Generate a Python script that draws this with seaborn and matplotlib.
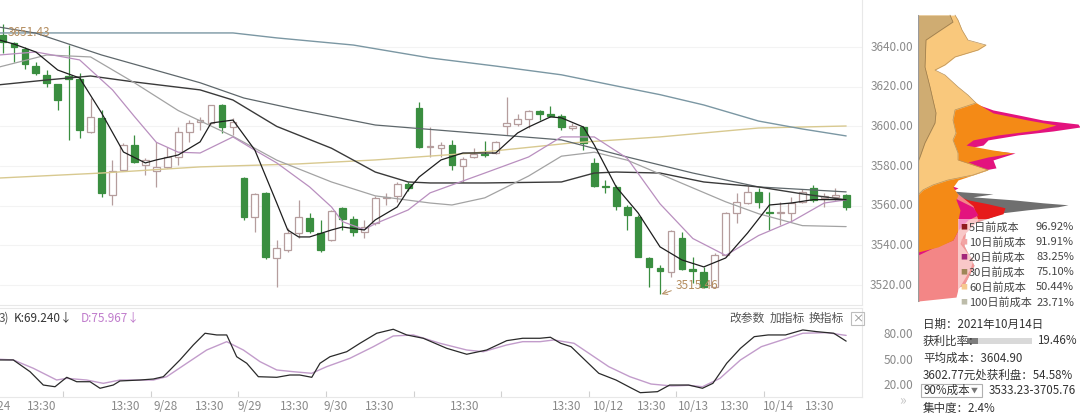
import numpy as np
import pandas as pd
import matplotlib
matplotlib.use("Agg")
import matplotlib.pyplot as plt
import matplotlib.transforms as mtransforms
from matplotlib.patches import Rectangle
import seaborn as sns

# ---------------- data (30-minute bars) ----------------
opens = [3646.1, 3642.0, 3639.0, 3630.4, 3625.9, 3621.4, 3625.4, 3623.9, 3597.2, 3604.3,
         3565.5, 3578.1, 3590.6, 3580.6, 3577.5, 3579.6, 3584.6, 3597.2, 3602.2, 3601.7,
         3610.8, 3599.7, 3574.0, 3554.4, 3566.5, 3533.7, 3537.8, 3546.3, 3553.9, 3546.3,
         3542.8, 3558.9, 3553.4, 3546.8, 3551.3, 3563.9, 3564.9, 3571.0, 3609.3, 3589.6,
         3589.1, 3590.6, 3580.1, 3584.6, 3586.1, 3586.6, 3600.2, 3601.2, 3603.7, 3607.8,
         3606.3, 3605.3, 3599.2, 3599.7, 3581.6, 3570.0, 3569.5, 3559.4, 3554.4, 3533.7,
         3528.7, 3526.7, 3543.8, 3528.2, 3526.7, 3519.1, 3535.2, 3556.4, 3561.4, 3566.9,
         3556.9, 3556.4, 3556.4, 3561.9, 3569.0, 3563.9, 3564.4, 3565.4]
highs = [3651.43, 3642.5, 3640.0, 3632.5, 3628.4, 3621.6, 3641.0, 3626.9, 3614.3, 3608.3,
         3583.1, 3591.7, 3595.7, 3584.1, 3592.2, 3589.6, 3599.7, 3603.2, 3604.8, 3611.0,
         3611.2, 3604.3, 3574.5, 3566.5, 3567.0, 3542.8, 3548.8, 3562.9, 3556.4, 3552.9,
         3558.0, 3559.4, 3554.9, 3552.9, 3564.9, 3566.5, 3572.0, 3572.0, 3612.3, 3599.7,
         3592.2, 3593.2, 3584.6, 3589.1, 3592.7, 3592.7, 3614.8, 3606.3, 3608.3, 3608.3,
         3610.3, 3606.3, 3601.7, 3600.2, 3584.1, 3573.0, 3570.5, 3560.4, 3555.4, 3534.2,
         3530.2, 3547.8, 3546.8, 3534.2, 3529.2, 3536.2, 3556.9, 3566.5, 3570.0, 3569.0,
         3566.9, 3561.9, 3564.4, 3568.5, 3570.5, 3566.5, 3569.0, 3566.0]
lows = [3637.0, 3632.5, 3628.9, 3625.9, 3619.9, 3608.3, 3593.2, 3594.2, 3596.7, 3564.4,
        3560.4, 3577.5, 3581.6, 3575.5, 3569.5, 3579.1, 3580.6, 3592.2, 3598.2, 3601.0,
        3596.7, 3595.7, 3552.9, 3546.8, 3533.2, 3519.1, 3536.7, 3543.8, 3546.3, 3536.7,
        3542.0, 3547.8, 3544.8, 3543.8, 3550.3, 3560.4, 3561.9, 3567.5, 3589.1, 3584.6,
        3584.6, 3578.1, 3572.0, 3584.1, 3584.6, 3586.1, 3595.7, 3600.2, 3599.2, 3603.2,
        3604.8, 3598.2, 3598.2, 3588.1, 3569.5, 3566.5, 3557.9, 3547.8, 3534.0, 3519.1,
        3515.46, 3524.2, 3527.7, 3521.1, 3518.6, 3518.6, 3534.2, 3551.3, 3561.0, 3558.9,
        3547.8, 3550.3, 3551.8, 3561.4, 3561.9, 3559.4, 3562.9, 3557.9]
closes = [3642.5, 3640.0, 3631.5, 3626.9, 3621.9, 3613.3, 3623.9, 3598.2, 3604.8, 3566.5,
          3577.5, 3590.6, 3582.1, 3583.1, 3579.6, 3584.6, 3597.2, 3601.7, 3603.2, 3610.8,
          3599.7, 3602.2, 3554.4, 3566.0, 3534.2, 3538.8, 3546.3, 3554.4, 3547.3, 3537.8,
          3557.4, 3553.4, 3546.8, 3549.3, 3563.9, 3564.4, 3571.0, 3569.0, 3589.6, 3590.1,
          3590.6, 3580.6, 3583.6, 3586.1, 3585.6, 3592.2, 3601.7, 3603.7, 3607.8, 3606.3,
          3605.3, 3599.7, 3600.2, 3591.7, 3570.0, 3569.5, 3559.9, 3555.4, 3534.2, 3529.2,
          3527.2, 3547.3, 3528.2, 3527.2, 3519.1, 3535.2, 3556.4, 3561.9, 3566.9, 3561.9,
          3556.4, 3557.0, 3561.4, 3566.9, 3562.9, 3564.9, 3565.4, 3559.4]

# moving-average lines, read at sample bars
ma5_x = [-0.3, 1, 3, 5, 7, 9, 11, 13, 14, 16, 18, 19, 21, 23, 25, 26, 27, 28, 30, 31, 33, 34, 36, 37,
         38, 40, 42, 45, 47, 48, 50, 51, 53, 54, 56, 58, 60, 62, 64, 66, 68, 70, 72, 74, 77]
ma5_v = [3643.5, 3641.5, 3637.5, 3628.4, 3624.4, 3606.8, 3587.1, 3581.6, 3583.1, 3585.6, 3592.2,
         3601.7, 3603.2, 3588.1, 3561.4, 3547.8, 3544.3, 3544.3, 3547.8, 3549.3, 3547.8, 3552.9,
         3559.4, 3568.0, 3574.5, 3583.1, 3586.6, 3586.6, 3596.7, 3599.7, 3604.8, 3604.3, 3599.7,
         3590.6, 3569.5, 3556.4, 3539.3, 3532.7, 3529.2, 3533.7, 3546.3, 3560.4, 3561.4, 3563.1, 3563.1]
ma10_x = [-0.3, 3, 7, 10, 12, 14, 16, 18, 21, 23, 25, 28, 30, 31, 33, 34, 37, 39, 44, 48, 51, 54,
          57, 60, 63, 66, 69, 72, 75, 77]
ma10_v = [3636.0, 3637.5, 3633.5, 3618.4, 3605.0, 3592.0, 3587.0, 3586.6, 3594.7, 3588.0, 3581.6,
          3569.5, 3559.4, 3552.0, 3548.0, 3551.0, 3557.9, 3566.5, 3576.5, 3584.6, 3594.7, 3594.7,
          3584.0, 3561.0, 3543.5, 3535.0, 3545.0, 3552.0, 3561.4, 3563.0]
ma20_x = [-0.3, 4, 8, 12, 16, 21, 25, 30, 34, 39, 41, 44, 48, 51, 54, 57, 60, 63, 66, 69, 73, 77]
ma20_v = [3630.0, 3636.0, 3635.0, 3622.0, 3608.0, 3595.0, 3583.0, 3572.0, 3565.0, 3561.4, 3560.4,
          3564.0, 3575.0, 3585.0, 3587.0, 3583.0, 3576.0, 3569.0, 3562.0, 3556.0, 3550.0, 3549.5]
ma30_x = [-0.3, 4, 8, 12, 18, 21, 25, 30, 34, 37, 39, 44, 51, 54, 56, 60, 64, 69, 73, 77]
ma30_v = [3621.0, 3623.4, 3625.4, 3622.4, 3618.4, 3613.3, 3600.0, 3589.0, 3577.0, 3572.0, 3571.5,
          3571.5, 3572.0, 3576.5, 3577.0, 3576.5, 3572.0, 3569.5, 3566.0, 3563.0]
ma60_x = [-0.3, 3, 9, 18, 22, 27, 34, 43, 51, 57, 63, 69, 77]
ma60_v = [3650.0, 3647.0, 3636.0, 3622.0, 3614.3, 3608.3, 3600.7, 3596.7, 3593.2, 3584.6, 3576.5,
          3569.5, 3567.0]
ma120_x = [-0.3, 9, 21, 25, 32, 39, 45, 51, 56, 60, 64, 69, 73, 77]
ma120_v = [3647.1, 3647.1, 3647.1, 3644.6, 3641.0, 3634.5, 3630.4, 3626.0, 3620.4, 3616.0, 3610.8,
           3602.7, 3598.7, 3595.2]
ma250_x = [-0.3, 9, 18, 27, 34, 43, 52, 60, 69, 77]
ma250_v = [3574.0, 3576.5, 3579.6, 3581.1, 3583.1, 3586.6, 3591.7, 3594.7, 3599.2, 3600.2]

# KDJ
k_x = [-0.3, 0.94, 2.47, 3.68, 4.75, 5.82, 6.73, 7.95, 8.86, 10.07, 10.68, 12.51, 13.73, 14.64,
       16.16, 17.38, 18.45, 19.52, 20.43, 21.34, 22.26, 23.32, 25.0, 26.2, 27.1, 28.2, 28.95,
       29.86, 31.39, 32.6, 34.13, 35.64, 36.87, 38.38, 40.52, 42.35, 44.17, 46.0, 47.46, 49.04,
       49.99, 50.93, 51.88, 53.14, 54.41, 55.98, 57.25, 58.2, 59.77, 60.88, 62.61, 63.88, 64.83,
       66.09, 67.35, 68.61, 69.87, 71.46, 73.04, 74.3, 75.87, 77]
k_v = [47.1, 47.1, 33.3, 17.6, 15.6, 26.7, 21.5, 21.5, 13.8, 17.6, 22.4, 23.5, 24.7, 27.4, 47.1,
       64.7, 78.5, 76.5, 76.5, 50.9, 43.2, 27.4, 26.7, 29.4, 29.4, 26.7, 43.2, 50.9, 56.8, 66.7,
       78.5, 83.2, 76.5, 72.6, 60.8, 53.8, 58.8, 69.8, 72.6, 72.6, 73.8, 66.7, 62.7, 47.1, 31.4,
       23.5, 14.9, 8.6, 9.8, 17.6, 17.6, 13.8, 19.6, 43.2, 60.8, 74.5, 76.5, 76.5, 82.4, 80.4,
       78.5, 69.24]
d_x = [-0.3, 0.94, 2.77, 4.9, 5.82, 7.64, 9.16, 10.68, 13.73, 14.95, 16.78, 18.6, 20.43, 21.95,
       23.47, 25.0, 26.51, 28.19, 29.56, 31.69, 33.82, 35.64, 37.47, 39.91, 42.35, 43.87, 46.0,
       47.46, 49.04, 50.3, 52.15, 53.74, 55.32, 57.25, 59.18, 61.07, 62.61, 63.88, 65.48, 67.35,
       69.25, 71.14, 73.04, 75.24, 77]
d_v = [47.9, 47.1, 37.3, 23.5, 25.5, 23.5, 19.6, 23.5, 23.5, 27.4, 43.2, 58.8, 68.6, 58.8, 45.1,
       35.3, 33.3, 31.4, 39.2, 49.1, 62.7, 75.3, 76.5, 66.7, 58.8, 56.8, 64.7, 68.6, 68.6, 70.6,
       66.7, 52.9, 39.2, 27.4, 18.8, 16.5, 17.3, 15.6, 25.5, 47.1, 62.7, 70.6, 78.5, 79.2, 75.967]

# axis labels
xtick_pos = [3.50, 11.21, 14.86, 18.90, 22.56, 26.67, 30.35, 34.43, 42.19, 51.48, 55.34, 59.24,
             63.04, 66.85, 70.80, 74.61]
xtick_labels = ['13:30', '13:30', '9/28', '13:30', '9/29', '13:30', '9/30', '13:30', '13:30',
                '13:30', '10/12', '13:30', '10/13', '13:30', '10/14', '13:30']
day_breaks = [5.5, 13.5, 21.5, 29.5, 37.5, 45.5, 53.5, 61.5, 69.5]
price_ticks = [3520, 3540, 3560, 3580, 3600, 3620, 3640]
kdj_ticks = [80, 50, 20]

# chip distribution layers (price, amount)
gray_p = [3569, 3567, 3566, 3564.5, 3563, 3561.5, 3560.5, 3559.5, 3558, 3556.5, 3553, 3550, 3540, 3530, 3520, 3512]
gray_w = [0, 45, 75, 55, 95, 125, 150, 140, 110, 85, 66, 48, 46, 56, 46, 0]
red_p = [3567, 3565, 3563, 3561, 3559, 3556, 3553, 3550, 3540, 3530, 3520, 3512]
red_w = [0, 40, 50, 70, 87, 85, 65, 48, 46, 56, 46, 0]
salmon_p = [3570, 3560, 3553, 3545, 3541, 3537, 3533, 3528, 3523, 3518, 3514, 3512]
salmon_w = [30, 55, 60, 45, 42, 48, 55, 52, 46, 40, 38, 0]
magenta_p = [3611, 3608.3, 3605.8, 3603.2, 3601.2, 3599.7, 3597.7, 3595.7, 3593.2, 3590.6, 3589.1,
             3586.6, 3583.1, 3579.1, 3577, 3574, 3571.5, 3569, 3566.5, 3563.1, 3559.4, 3555.4,
             3552.9, 3547.8, 3542.8, 3538.8, 3535.2]
magenta_w = [60, 75, 100, 125, 160, 162, 135, 100, 70, 65, 50, 97, 75, 78, 55, 35, 25, 40, 30, 40,
             55, 60, 50, 40, 35, 15, 0]
orange_p = [3613, 3609.8, 3606.8, 3603.2, 3600.7, 3598.2, 3595.7, 3593.2, 3590.6, 3588.1, 3586.6,
            3584.6, 3582.1, 3578.1, 3573, 3569.5, 3565.5, 3563.1, 3557.9, 3552.9, 3547.8, 3542.8,
            3539.3, 3536.7]
orange_w = [55, 65, 75, 110, 138, 120, 80, 55, 48, 75, 95, 70, 50, 70, 40, 35, 40, 38, 42, 40, 40,
            35, 20, 0]
lorange_p = [3656.1, 3653.6, 3648.6, 3643.5, 3641, 3638.5, 3635, 3631, 3628.4, 3625.9, 3619.9,
             3615.8, 3611.8, 3608.3, 3603.2, 3596.7, 3593.2, 3586.6, 3583.1, 3580.6, 3578.1,
             3575.5, 3573, 3570.5, 3568, 3565.5]
lorange_w = [37, 40, 44, 50, 68, 60, 37, 27, 17, 27, 40, 50, 58, 37, 35, 38, 35, 40, 40, 55, 70, 55,
             30, 15, 5, 0]
tan_p = [3656.1, 3652.6, 3648.6, 3643.5, 3629.9, 3619.9, 3613.3, 3606.8, 3601.7, 3596.7, 3591.7,
         3584.6, 3582.1]
tan_w = [32, 35, 23, 8, 7, 12, 15, 18, 17, 12, 7, 2, 0]

legend_names = ['5日前成本', '10日前成本', '20日前成本', '30日前成本', '60日前成本', '100日前成本']
legend_pcts = ['96.92%', '91.91%', '83.25%', '75.10%', '50.44%', '23.71%']
legend_colors = ['#8e1b1b', '#f2a4a4', '#a3267a', '#9e8658', '#f6c98f', '#bdbcaa']

high_val, low_val, low_bar = 3651.43, 3515.46, 60
k_last, d_last = 69.240, 75.967

# ---------------- style ----------------
sns.set_theme(style="white")
plt.rcParams['font.family'] = ['Noto Sans CJK SC', 'DejaVu Sans']
plt.rcParams['axes.unicode_minus'] = False

W, H = 1080, 413
fig = plt.figure(figsize=(W / 100, H / 100), dpi=100)
fig.patch.set_facecolor('white')


def rect(x0, y0, x1, y1):
    return [x0 / W, 1 - y1 / H, (x1 - x0) / W, (y1 - y0) / H]


def fxy(px, py):
    return px / W, 1 - py / H


ax = fig.add_axes(rect(0, 0, 862, 305))
axk = fig.add_axes(rect(0, 308, 862, 397))
axc = fig.add_axes(rect(918, 0, 1080, 305))

X0, DX = 3.0, 10.95
xlim = ((0 - X0) / DX, (862 - X0) / DX)
PRICE_LIM = (3510.0, 3663.7)
GRID = '#e8e8e8'
TXT = '#8a8a8a'

# ---------------- main candlestick panel ----------------
O = np.array(opens); C = np.array(closes); Hh = np.array(highs); L = np.array(lows)
idx = np.arange(len(O))
up = C >= O
green = '#3a8e40'
hollow = '#b59d9d'
face = np.where(up, 'white', green)
edge = np.where(up, hollow, green)
body_low = np.minimum(O, C)
body_h = np.maximum(np.abs(C - O), 0.6)

for v in price_ticks:
    ax.axhline(v, color='#f3f3f3', lw=0.8, zorder=0)

ma_specs = [
    (ma250_x, ma250_v, '#d8c990', 1.0),
    (ma120_x, ma120_v, '#7b97a3', 1.0),
    (ma60_x, ma60_v, '#5e676b', 0.9),
    (ma30_x, ma30_v, '#3a3a3a', 1.0),
    (ma20_x, ma20_v, '#a3a3a3', 0.9),
    (ma10_x, ma10_v, '#b98fbf', 0.9),
    (ma5_x, ma5_v, '#1e1e1e', 0.9),
]

ax.vlines(idx, L, Hh, colors=list(edge), lw=0.9, zorder=2)
ax.bar(idx, body_h, bottom=body_low, width=0.62, color=list(face), edgecolor=list(edge),
       linewidth=0.9, zorder=3)

for xs, vs, c, lw in ma_specs:
    sns.lineplot(x=xs, y=vs, ax=ax, color=c, lw=lw, estimator=None, sort=False,
                 legend=False, zorder=4)

ax.text(0.46, 3647.1, f'{high_val:.2f}', color='#b48d5f', fontsize=8.5, ha='left', va='center',
        zorder=6)
ax.annotate(f'{low_val:.2f}', xy=(low_bar + 0.15, low_val), xytext=(61.45, 3520.0),
            color='#b48d5f', fontsize=8.5, ha='left', va='center', zorder=6,
            arrowprops=dict(arrowstyle='->', color='#b48d5f', lw=0.7, shrinkA=1, shrinkB=0,
                            relpos=(0, 0.2)))

ax.set_xlim(*xlim)
ax.set_ylim(*PRICE_LIM)
ax.set_xticks([]); ax.set_yticks([])
for s in ['top', 'left']:
    ax.spines[s].set_visible(False)
for s in ['bottom', 'right']:
    ax.spines[s].set_color(GRID); ax.spines[s].set_linewidth(0.8)

btr = mtransforms.blended_transform_factory(ax.transAxes, ax.transData)
for v in price_ticks:
    ax.text(913 / 862, v, f'{v:.2f}', transform=btr, ha='right', va='center',
            fontsize=8.5, color=TXT, clip_on=False)

# ---------------- KDJ panel ----------------
sns.lineplot(x=d_x, y=d_v, ax=axk, color='#c29ccb', lw=1.0, estimator=None, sort=False, legend=False)
sns.lineplot(x=k_x, y=k_v, ax=axk, color='#2a2a2a', lw=0.9, estimator=None, sort=False, legend=False)
axk.set_xlim(*xlim)
axk.set_ylim(3.53, 108.2)
axk.set_yticks([])
axk.set_xticks(xtick_pos)
axk.set_xticklabels(xtick_labels)
axk.set_xticks(day_breaks, minor=True)
axk.tick_params(axis='x', which='major', length=0, pad=2.5, labelsize=8.5, labelcolor=TXT)
axk.tick_params(axis='x', which='minor', length=4, width=0.8, color='#d0d0d0', direction='in',
                bottom=True)
axk.spines['left'].set_visible(False)
for s in ['top', 'bottom', 'right']:
    axk.spines[s].set_color(GRID); axk.spines[s].set_linewidth(0.8)
ktr = mtransforms.blended_transform_factory(axk.transAxes, axk.transData) + \
    mtransforms.ScaledTranslation(0, -3 / 100, fig.dpi_scale_trans)
for v in kdj_ticks:
    axk.text(913 / 862, v, f'{v:.2f}', transform=ktr, ha='right', va='center',
             fontsize=8.5, color=TXT, clip_on=False)

fig.text(*fxy(11, 406.5), '9/24', ha='right', va='center', fontsize=8.5, color=TXT)

# header of KDJ panel
fig.text(*fxy(-1, 318), '3)', ha='left', va='center', fontsize=8.5, color='#555')
fig.text(*fxy(14, 318), f'K:{k_last:.3f}↓', ha='left', va='center', fontsize=8.5, color='#333')
fig.text(*fxy(81, 318), f'D:{d_last:.3f}↓', ha='left', va='center', fontsize=8.5, color='#c07ccc')
for label, px in [('改参数', 729), ('加指标', 770), ('换指标', 809)]:
    fig.text(*fxy(px, 318), label, ha='left', va='center', fontsize=8.5, color='#555')
fig.add_artist(Rectangle(fxy(851, 325), 13 / W, 13 / H, transform=fig.transFigure,
                         fill=False, edgecolor='#bdbdbd', lw=0.8))
fig.text(*fxy(857.5, 318.5), '×', ha='center', va='center', fontsize=8, color='#888')
fig.text(*fxy(902, 400), '»', ha='center', va='center', fontsize=10, color='#c4c4c4')

# ---------------- chip distribution ----------------
layers = [
    (gray_p, gray_w, '#6f6f6f', None),
    (red_p, red_w, '#e61a1a', None),
    (salmon_p, salmon_w, '#f38686', None),
    (magenta_p, magenta_w, '#e3137e', None),
    (orange_p, orange_w, '#f48a16', None),
    (lorange_p, lorange_w, '#f9c87c', '#b8925c'),
    (tan_p, tan_w, '#cfac72', '#9c7a48'),
]
for p, w, c, ec in layers:
    axc.fill_betweenx(p, 0, w, color=c, lw=0)
    if ec is not None:
        axc.plot(w, p, color=ec, lw=0.5)
axc.plot([0, 0], [3512, 3656.1], color='#9a9a9a', lw=0.9)
axc.add_patch(Rectangle((40, 3510), 125, 3553.4 - 3510, facecolor='white', alpha=0.55, lw=0))
axc.set_xlim(0, 162)
axc.set_ylim(*PRICE_LIM)
axc.set_xticks([]); axc.set_yticks([])
for s in axc.spines.values():
    s.set_visible(False)

for i, (nm, pc, col) in enumerate(zip(legend_names, legend_pcts, legend_colors)):
    yy = 227 + i * 15.1
    fig.text(*fxy(964, yy), '■', ha='center', va='center', fontsize=5, color=col)
    fig.text(*fxy(969, yy), nm, ha='left', va='center', fontsize=8, color='#444')
    fig.text(*fxy(1074, yy), pc, ha='right', va='center', fontsize=8, color='#444')

# info block
INFO = '#333333'
fig.text(*fxy(923, 324), '日期：2021年10月14日', ha='left', va='center', fontsize=8.3, color=INFO)
fig.text(*fxy(923, 341), '获利比率：', ha='left', va='center', fontsize=8.3, color=INFO)
fig.add_artist(Rectangle(fxy(967, 344), 65 / W, 6 / H, transform=fig.transFigure,
                         facecolor='#d9d9d9', edgecolor='none'))
fig.add_artist(Rectangle(fxy(967, 344), 11 / W, 6 / H, transform=fig.transFigure,
                         facecolor='#7d7d7d', edgecolor='none'))
fig.text(*fxy(1077, 341), '19.46%', ha='right', va='center', fontsize=8.3, color=INFO)
fig.text(*fxy(923, 358), '平均成本：3604.90', ha='left', va='center', fontsize=8.3, color=INFO)
fig.text(*fxy(923, 375), '3602.77元处获利盘：54.58%', ha='left', va='center', fontsize=8.3, color=INFO)
fig.add_artist(Rectangle(fxy(921, 397), 61 / W, 13 / H, transform=fig.transFigure,
                         fill=False, edgecolor='#b0b0b0', lw=0.8))
fig.text(*fxy(924, 390.5), '90%成本', ha='left', va='center', fontsize=8.3, color=INFO)
fig.text(*fxy(974, 390.5), '▼', ha='center', va='center', fontsize=5, color='#777')
fig.text(*fxy(989, 390.5), '3533.23-3705.76', ha='left', va='center', fontsize=8.3, color=INFO)
fig.text(*fxy(923, 408), '集中度：2.4%', ha='left', va='center', fontsize=8.3, color=INFO)

fig.savefig('out.png', dpi=100, facecolor='white')
